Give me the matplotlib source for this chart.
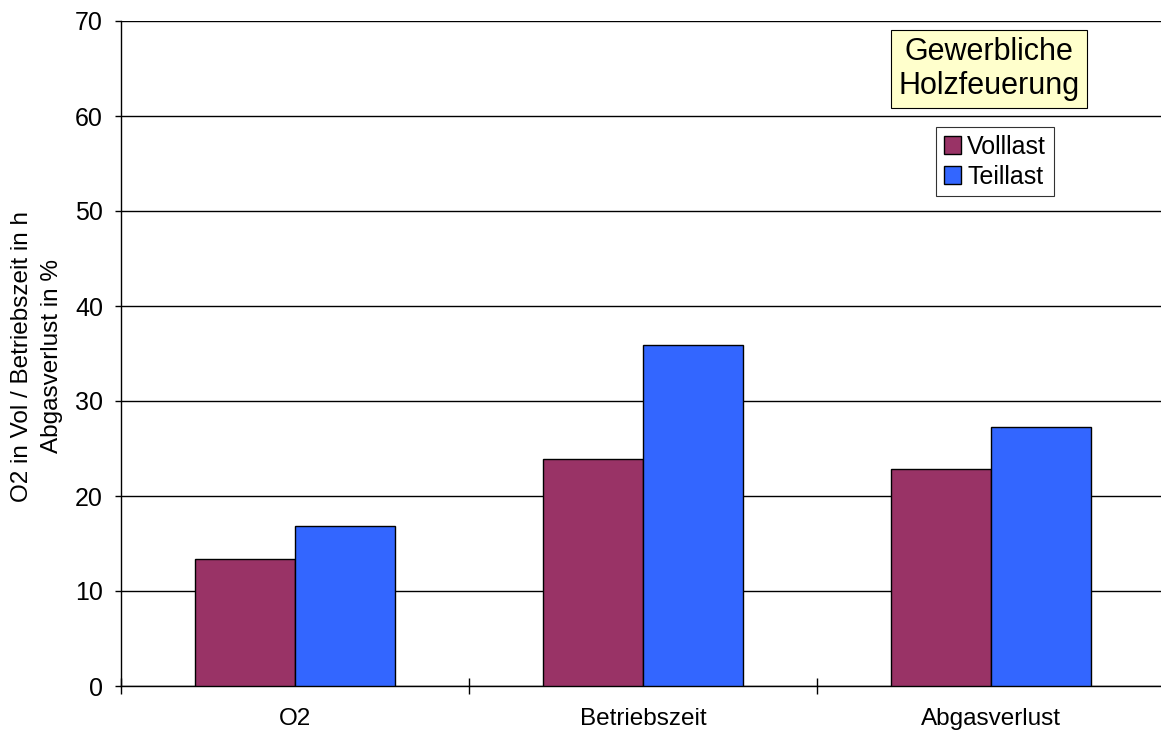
import matplotlib
matplotlib.use("Agg")
import matplotlib.pyplot as plt
import numpy as np
from matplotlib.patches import Patch

plt.rcParams['font.family'] = ['Liberation Sans', 'DejaVu Sans']

categories = ["O2", "Betriebszeit", "Abgasverlust"]
volllast = [13.4, 23.9, 22.8]
teillast = [16.8, 35.9, 27.3]
series_names = ["Volllast", "Teillast"]
colors = ["#993366", "#3366FF"]

W, H = 1161, 736
fig = plt.figure(figsize=(W / 100, H / 100), dpi=100)
ax = fig.add_axes([121 / W, 1 - 686 / H, 1044 / W, 665 / H])

x = np.arange(len(categories))
bw = 0.287
ax.bar(x - bw / 2, volllast, bw, color=colors[0], edgecolor="black", linewidth=1, zorder=3)
ax.bar(x + bw / 2, teillast, bw, color=colors[1], edgecolor="black", linewidth=1, zorder=3)

ax.set_xlim(-0.5, 2.5)
ax.set_ylim(0, 70)
ax.set_yticks(range(0, 71, 10))
ax.yaxis.grid(True, color="black", linewidth=1, zorder=0)
ax.set_axisbelow(True)

# category boundaries carry the tick marks, labels sit at centres
ax.set_xticks([-0.5, 0.5, 1.5, 2.5])
ax.set_xticklabels([])
ax.set_xticks(x, minor=True)
ax.set_xticklabels(categories, minor=True, fontsize=17.5)
ax.tick_params(axis="x", which="minor", length=0, pad=16)
ax.tick_params(axis="x", which="major", direction="inout", length=12, width=1)
ax.tick_params(axis="y", direction="out", length=4, width=1, labelsize=18, pad=9)

for s in ["top", "right"]:
    ax.spines[s].set_visible(False)
ax.spines["left"].set_linewidth(1)
ax.spines["bottom"].set_linewidth(1)

fig.text(37 / W, 1 - 356 / H, "O2 in Vol / Betriebszeit in h\nAbgasverlust in %",
         rotation=90, ha="center", va="center", fontsize=17.5, linespacing=1.45)

fig.text(989 / W, 1 - 69 / H, "Gewerbliche\nHolzfeuerung", ha="center", va="center",
         fontsize=22, linespacing=1.15,
         bbox=dict(boxstyle="square,pad=0.25", facecolor="#FFFFCC", edgecolor="black", linewidth=0.8))

handles = [Patch(facecolor=c, edgecolor="black", label=n) for c, n in zip(colors, series_names)]
leg = fig.legend(handles=handles, loc="upper left", bbox_to_anchor=(936 / W, 1 - 127 / H),
                 fontsize=18, frameon=True, fancybox=False, handlelength=0.7, handleheight=0.7,
                 handletextpad=0.25, borderpad=0.3, labelspacing=0.25, borderaxespad=0)
leg.get_frame().set_edgecolor("black")
leg.get_frame().set_linewidth(0.8)

fig.savefig("out.png", dpi=100)
